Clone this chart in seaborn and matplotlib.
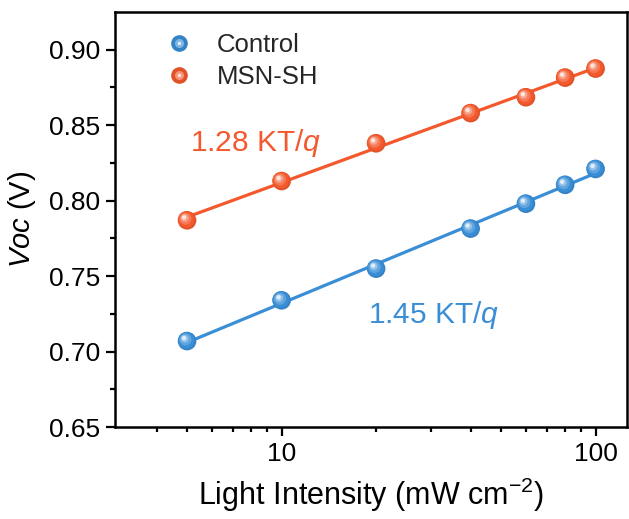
import numpy as np
import pandas as pd
import matplotlib
matplotlib.use("Agg")
import matplotlib.pyplot as plt
import seaborn as sns
from matplotlib import transforms, colors as mcolors
from matplotlib.lines import Line2D
from matplotlib.legend_handler import HandlerTuple
from matplotlib.ticker import FixedLocator, NullFormatter

# ---- data ----
intensity = [5, 10, 20, 40, 60, 80, 100]
voc_control = [0.707, 0.734, 0.755, 0.7815, 0.798, 0.8105, 0.821]
voc_msn = [0.787, 0.813, 0.838, 0.858, 0.8685, 0.8815, 0.8875]
series_names = ["Control", "MSN-SH"]
slope_labels = ["1.45 KT/$q$", "1.28 KT/$q$"]
x_ticks = [10, 100]
y_ticks = [0.65, 0.70, 0.75, 0.80, 0.85, 0.90]

df = pd.DataFrame({
    "intensity": intensity * 2,
    "voc": voc_control + voc_msn,
    "sample": [series_names[0]] * len(intensity) + [series_names[1]] * len(intensity),
})

palette = {"Control": "#3A8ED6", "MSN-SH": "#F4592D"}

sns.set_theme(style="white")
plt.rcParams["font.family"] = ["Liberation Sans", "DejaVu Sans"]
plt.rcParams["mathtext.fontset"] = "custom"
plt.rcParams["mathtext.rm"] = "Liberation Sans"
plt.rcParams["mathtext.it"] = "Liberation Sans:italic"

fig = plt.figure(figsize=(6.29, 5.19), dpi=100)
ax = fig.add_axes([0.183, 0.177, 0.814, 0.8])


def lighten(c, f):
    r = np.array(mcolors.to_rgb(c))
    return tuple(r + (1 - r) * f)


def darken(c, f):
    r = np.array(mcolors.to_rgb(c))
    return tuple(r * (1 - f))


for name in series_names:
    sub = df[df["sample"] == name]
    c = palette[name]
    sns.regplot(data=sub, x="intensity", y="voc", logx=True, ci=None,
                scatter=False, truncate=True, ax=ax,
                line_kws=dict(color=c, lw=2.3, zorder=2))
    sns.scatterplot(data=sub, x="intensity", y="voc", ax=ax, color=darken(c, 0.08),
                    s=180, edgecolor="none", zorder=3, legend=False)
    layers = [(140, 0.0, 0.8), (75, 0.2, 1.6), (32, 0.45, 2.4), (10, 0.85, 3.0)]
    for s, f, off in layers:
        tr = transforms.offset_copy(ax.transData, fig=fig, x=-off, y=off, units="dots")
        ax.scatter(sub["intensity"], sub["voc"], s=s, color=lighten(c, f),
                   edgecolor="none", zorder=4, transform=tr)

ax.set_xscale("log")
ax.set_xlim(2.95, 126)
ax.set_ylim(0.65, 0.925)
ax.xaxis.set_major_locator(FixedLocator(x_ticks))
ax.set_xticklabels([str(t) for t in x_ticks])
ax.xaxis.set_minor_locator(FixedLocator([4, 5, 6, 7, 8, 9, 20, 30, 40, 50, 60, 70, 80, 90]))
ax.xaxis.set_minor_formatter(NullFormatter())
ax.set_yticks(y_ticks)
ax.set_yticklabels([f"{t:.2f}" for t in y_ticks])
ax.yaxis.set_minor_locator(FixedLocator([0.675, 0.725, 0.775, 0.825, 0.875]))

for sp in ax.spines.values():
    sp.set_visible(True)
    sp.set_color("black")
    sp.set_linewidth(1.8)

ax.tick_params(axis="both", which="major", direction="out", length=6.5, width=1.6,
               labelsize=19, color="black", labelcolor="black", pad=4)
ax.tick_params(axis="both", which="minor", direction="out", length=3.5, width=1.6,
               color="black")
ax.tick_params(bottom=True, left=True, top=False, right=False, which="both")

ax.set_xlabel("Light Intensity (mW cm$^{-2}$)", fontsize=22, color="black", labelpad=7)
ax.set_ylabel("$Voc$ (V)", fontsize=21, color="black", labelpad=8)

ax.text(5.1, 0.838, slope_labels[1], color=palette["MSN-SH"], fontsize=21.5,
        va="center", ha="left")
ax.text(18.9, 0.724, slope_labels[0], color=palette["Control"], fontsize=21.5,
        va="center", ha="left")

handles = []
for name in series_names:
    c = palette[name]
    base = Line2D([], [], ls="none", marker="o", ms=12, mfc=darken(c, 0.08), mec="none")
    hl = Line2D([], [], ls="none", marker="o", ms=6.5, mfc=lighten(c, 0.35), mec="none")
    hl2 = Line2D([], [], ls="none", marker="o", ms=2.5, mfc=lighten(c, 0.85), mec="none")
    handles.append((base, hl, hl2))
ax.legend(handles, series_names, handler_map={tuple: HandlerTuple(ndivide=1, pad=0)},
          loc="upper left", bbox_to_anchor=(0.05, 1.005), frameon=False, fontsize=18.5,
          handletextpad=0.85, labelspacing=0.3, handlelength=1.2)

fig.savefig("out.png", dpi=100)
